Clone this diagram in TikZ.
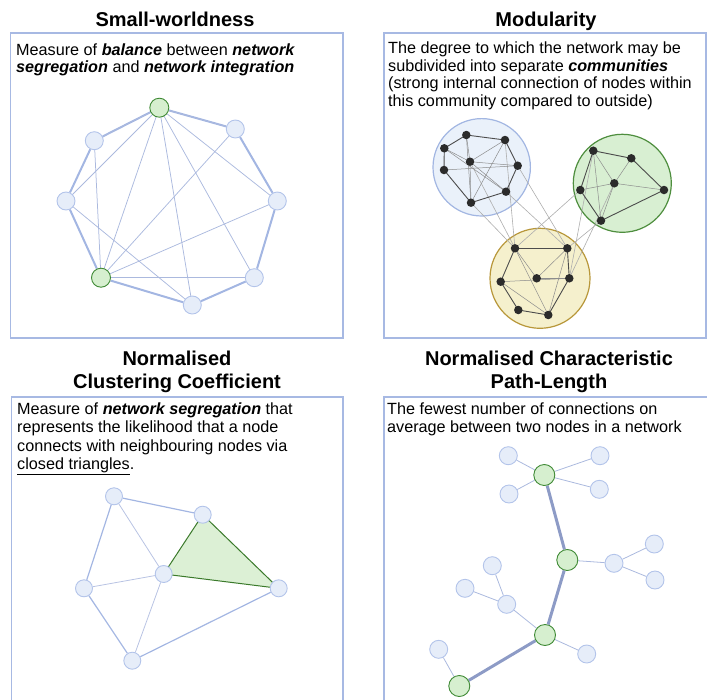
\documentclass[tikz,border=0pt]{standalone}
\usepackage{fontspec}
\setmainfont{Liberation Sans}
\pgfdeclarelayer{back}
\pgfdeclarelayer{links}
\pgfsetlayers{back,links,main}

\definecolor{framec}{HTML}{A7B9E3}
\definecolor{nfill}{HTML}{E6EDF9}
\definecolor{nedge}{HTML}{B3C4EA}
\definecolor{gfill}{HTML}{D6EFCF}
\definecolor{gedge}{HTML}{3F8A35}
\definecolor{ringc}{HTML}{A3B6E2}
\definecolor{chordc}{HTML}{ABB9DE}
\definecolor{pathc}{HTML}{8D9BC6}
\definecolor{trifill}{HTML}{DCF0D5}
\definecolor{triedge}{HTML}{3B7A2B}
\definecolor{dotc}{HTML}{2B2B2B}
\definecolor{blueC}{HTML}{EAF1FA}
\definecolor{blueE}{HTML}{A2B6E2}
\definecolor{greenC}{HTML}{D8EFD2}
\definecolor{greenE}{HTML}{4E8E3E}
\definecolor{yellowC}{HTML}{F5F0CD}
\definecolor{yellowE}{HTML}{B8973A}

\tikzset{
  frame/.style={draw=framec, line width=1.6pt},
  title/.style={anchor=base, inner sep=0, font=\fontsize{20}{23}\selectfont\bfseries},
  body/.style={anchor=base west, inner sep=0, font=\fontsize{16.2}{18}\selectfont},
  bnode/.style={circle, fill=nfill, draw=nedge, line width=0.9pt, minimum size=18pt, inner sep=0},
  gnode/.style={circle, fill=gfill, draw=gedge, line width=0.9pt, minimum size=19pt, inner sep=0},
  hub/.style={gnode, minimum size=21pt},
  dot/.style={circle, fill=dotc, minimum size=8.5pt, inner sep=0},
  ring/.style={draw=ringc, line width=2pt},
  chord/.style={draw=chordc, line width=0.75pt},
  medl/.style={draw=ringc, line width=1.2pt},
  thinl/.style={draw=chordc!85!white, line width=0.8pt},
  darkl/.style={draw=black!70, line width=0.9pt},
  lightl/.style={draw=black!45, line width=0.5pt},
  interl/.style={draw=black!32, line width=0.6pt},
  pathl/.style={draw=pathc, line width=3pt},
  treel/.style={draw=chordc, line width=0.8pt},
}

\newcommand{\bi}[1]{\textbf{\textit{#1}}}

\begin{document}
\begin{tikzpicture}[x=1pt, y=-1pt]
\useasboundingbox (0,0) rectangle (707,699);
\clip (0,0) rectangle (707,699);

% ---------- panel frames ----------
\draw[frame] (10.5,33) rectangle (343,338);
\draw[frame] (384,33) rectangle (706,338);
\draw[frame] (11.5,720) -- (11.5,397) -- (343,397) -- (343,720);
\draw[frame] (384,720) -- (384,397) -- (730,397);

% ---------- titles ----------
\node[title] (t1) at (175,26) {Small-worldness};
\node[title] (t2) at (546,26) {Modularity};
\node[title] (t3a) at (177,365) {Normalised};
\node[title] (t3b) at (177,388) {Clustering Coefficient};
\node[title] (t4a) at (549,365) {Normalised Characteristic};
\node[title] (t4b) at (549,388) {Path-Length};

% ---------- descriptions ----------
\node[body] (d1a) at (16,55) {Measure of \bi{balance} between \bi{network}};
\node[body] (d1b) at (16,72.5) {\bi{segregation} and \bi{network integration}};

\node[body] (d2a) at (388,53.5) {The degree to which the network may be};
\node[body] (d2b) at (388,71) {subdivided into separate \bi{communities}};
\node[body] (d2c) at (388,88.5) {(strong internal connection of nodes within};
\node[body] (d2d) at (388,106) {this community compared to outside)};

\node[body] (d3a) at (17,414) {Measure of \bi{network segregation} that};
\node[body] (d3b) at (17,432.5) {represents the likelihood that a node};
\node[body] (d3c) at (17,451) {connects with neighbouring nodes via};
\node[body] (d3d) at (17,469.5) {\underline{closed triangles}.};

\node[body] (d4a) at (387,414) {The fewest number of connections on};
\node[body] (d4b) at (387,432.5) {average between two nodes in a network};

% ---------- small-world ring ----------
\node[gnode] (n1) at (159.3,107.7) {};
\node[bnode] (n2) at (235.3,129) {};
\node[bnode] (n3) at (277.3,201) {};
\node[bnode] (n4) at (254.3,277.7) {};
\node[bnode] (n5) at (192.3,305) {};
\node[gnode] (n6) at (101,277.7) {};
\node[bnode] (n7) at (66,201) {};
\node[bnode] (n8) at (94.3,140.7) {};
\begin{pgfonlayer}{links}
  \foreach \a/\b in {n1/n2,n2/n3,n3/n4,n4/n5,n5/n6,n6/n7,n7/n8,n8/n1}
    \draw[ring] (\a) -- (\b);
  \foreach \a/\b in {n1/n2,n1/n3,n1/n4,n1/n5,n1/n6,n1/n7,n1/n8,
                     n6/n2,n6/n3,n6/n4,n6/n8,n7/n5}
    \draw[chord] (\a.center) -- (\b.center);
\end{pgfonlayer}

% ---------- modularity communities ----------
\begin{pgfonlayer}{back}
  \draw[fill=blueC, draw=blueE, line width=1.2pt] (481.7,167.3) circle[radius=48.7];
  \draw[fill=greenC, draw=greenE, line width=1.2pt] (622.3,183.3) circle[radius=49];
  \draw[fill=yellowC, draw=yellowE, line width=1.2pt] (540,278.3) circle[radius=50];
\end{pgfonlayer}

\node[dot] (b1) at (466.3,135) {};
\node[dot] (b2) at (505,140) {};
\node[dot] (b3) at (444.3,148.3) {};
\node[dot] (b4) at (470,161.7) {};
\node[dot] (b5) at (517.7,165.7) {};
\node[dot] (b6) at (444,170) {};
\node[dot] (b7) at (506,191.7) {};
\node[dot] (b8) at (471,202.7) {};

\node[dot] (g1) at (593.3,150.7) {};
\node[dot] (g2) at (631.3,158.3) {};
\node[dot] (g3) at (614.3,183.3) {};
\node[dot] (g4) at (580.3,190) {};
\node[dot] (g5) at (664,190) {};
\node[dot] (g6) at (601,220.7) {};

\node[dot] (y1) at (515,248.3) {};
\node[dot] (y2) at (567.3,248.3) {};
\node[dot] (y3) at (536.7,278.3) {};
\node[dot] (y4) at (569.3,278.3) {};
\node[dot] (y5) at (500.7,281.7) {};
\node[dot] (y6) at (518.3,310) {};
\node[dot] (y7) at (548.3,315) {};

\begin{pgfonlayer}{links}
  % links between communities
  \foreach \a/\b in {b8/y1,b4/y1,b2/y1,b7/y2,b5/y2,g4/y1,g3/y4,g6/y2,g1/y4}
    \draw[interl] (\a.center) -- (\b.center);
  % blue community
  \foreach \a/\b in {b3/b1,b1/b2,b2/b5,b5/b7,b7/b8,b8/b6,b6/b3}
    \draw[darkl] (\a.center) -- (\b.center);
  \foreach \a/\b in {b3/b4,b4/b5,b1/b4,b2/b4,b4/b8,b4/b7,b2/b8,b3/b7,b6/b5,b1/b8}
    \draw[lightl] (\a.center) -- (\b.center);
  % green community
  \foreach \a/\b in {g1/g2,g2/g5,g5/g6,g6/g4,g4/g1}
    \draw[darkl] (\a.center) -- (\b.center);
  \foreach \a/\b in {g1/g3,g2/g3,g3/g5,g3/g4,g1/g6,g3/g6}
    \draw[lightl] (\a.center) -- (\b.center);
  % yellow community
  \foreach \a/\b in {y1/y2,y2/y4,y4/y7,y7/y6,y6/y5,y5/y1}
    \draw[darkl] (\a.center) -- (\b.center);
  \foreach \a/\b in {y3/y2,y3/y4,y1/y7,y5/y4,y2/y7,y5/y7,y1/y3}
    \draw[lightl] (\a.center) -- (\b.center);
\end{pgfonlayer}

% ---------- clustering triangle ----------
\node[bnode, minimum size=17pt] (c1) at (114,496.3) {};
\node[bnode, minimum size=17pt] (c2) at (202.7,514.7) {};
\node[bnode, minimum size=17pt] (c3) at (163.7,574) {};
\node[bnode, minimum size=17pt] (c4) at (84,588.3) {};
\node[bnode, minimum size=17pt] (c5) at (278.7,588.3) {};
\node[bnode, minimum size=17pt] (c6) at (132.3,660.7) {};
\begin{pgfonlayer}{links}
  \filldraw[fill=trifill, draw=triedge, line width=1pt, line join=round]
    (c2.center) -- (c5.center) -- (c3.center) -- cycle;
  \foreach \a/\b in {c1/c2,c1/c4,c4/c6,c6/c5}
    \draw[medl] (\a) -- (\b);
  \foreach \a/\b in {c1/c3,c4/c3,c3/c6}
    \draw[thinl] (\a) -- (\b);
\end{pgfonlayer}

% ---------- path-length tree ----------
\node[hub] (h1) at (544.3,475) {};
\node[hub] (h2) at (567.3,560) {};
\node[hub] (h3) at (545,635) {};
\node[hub] (h4) at (459.3,686) {};
\node[bnode] (l1) at (508.3,455.7) {};
\node[bnode] (l2) at (600,455.7) {};
\node[bnode] (l3) at (509,494) {};
\node[bnode] (l4) at (599.3,489.3) {};
\node[bnode] (l5) at (614,563.3) {};
\node[bnode] (l6) at (654.3,544) {};
\node[bnode] (l7) at (655,580) {};
\node[bnode] (l8) at (506.7,604.3) {};
\node[bnode] (l9) at (492.3,565.7) {};
\node[bnode] (l10) at (465,588.3) {};
\node[bnode] (l11) at (586.7,654) {};
\node[bnode] (l12) at (438.7,649.3) {};
\begin{pgfonlayer}{links}
  \foreach \a/\b in {h1/l1,h1/l2,h1/l3,h1/l4,h2/l5,l5/l6,l5/l7,
                     h3/l8,l8/l9,l8/l10,h3/l11,h4/l12}
    \draw[treel] (\a) -- (\b);
  \foreach \a/\b in {h1/h2,h2/h3,h3/h4}
    \draw[pathl] (\a) -- (\b);
\end{pgfonlayer}
\end{tikzpicture}
\end{document}
